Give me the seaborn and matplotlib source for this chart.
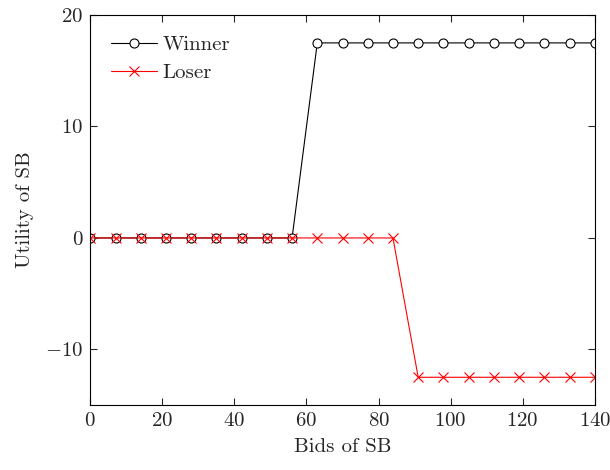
import numpy as np
import pandas as pd
import matplotlib
matplotlib.use("Agg")
import matplotlib.pyplot as plt
import seaborn as sns

# data
bids = [0, 7, 14, 21, 28, 35, 42, 49, 56, 63, 70, 77, 84, 91, 98, 105, 112, 119, 126, 133, 140]
winner = [0, 0, 0, 0, 0, 0, 0, 0, 0, 17.5, 17.5, 17.5, 17.5, 17.5, 17.5, 17.5, 17.5, 17.5, 17.5, 17.5, 17.5]
loser = [0, 0, 0, 0, 0, 0, 0, 0, 0, 0, 0, 0, 0, -12.5, -12.5, -12.5, -12.5, -12.5, -12.5, -12.5, -12.5]

sns.set_style("ticks")
plt.rcParams['font.family'] = ['cmr10', 'DejaVu Serif']
plt.rcParams['mathtext.fontset'] = 'cm'
plt.rcParams['axes.formatter.use_mathtext'] = True
plt.rcParams['xtick.direction'] = 'in'
plt.rcParams['ytick.direction'] = 'in'

df = pd.DataFrame({"bids": bids, "Winner": winner, "Loser": loser})

fig, ax = plt.subplots(figsize=(6.1, 4.7), dpi=100)
sns.lineplot(data=df, x="bids", y="Winner", ax=ax, color="black", lw=0.8,
             marker="o", markersize=6.5, markerfacecolor="white", markeredgecolor="black",
             markeredgewidth=0.8, label="Winner")
sns.lineplot(data=df, x="bids", y="Loser", ax=ax, color="red", lw=0.8,
             marker="x", markersize=6.5, markeredgecolor="red", markeredgewidth=0.8,
             label="Loser")

ax.set_xlim(0, 140)
ax.set_ylim(-15, 20)
ax.set_xticks([0, 20, 40, 60, 80, 100, 120, 140])
ax.set_yticks([-10, 0, 10, 20])
ax.tick_params(top=True, right=True, labelsize=15, length=5, width=0.8, pad=5)
for s in ax.spines.values():
    s.set_linewidth(0.8)
    s.set_color("black")
ax.set_xlabel("Bids of SB", fontsize=15, labelpad=6)
ax.set_ylabel("Utility of SB", fontsize=15, labelpad=8)
ax.legend(loc="upper left", frameon=False, fontsize=15, handlelength=2.2,
          borderaxespad=0.6, labelspacing=0.45, handletextpad=0.25)

fig.subplots_adjust(left=0.148, right=0.975, top=0.968, bottom=0.138)
fig.savefig("out.png", dpi=100)
